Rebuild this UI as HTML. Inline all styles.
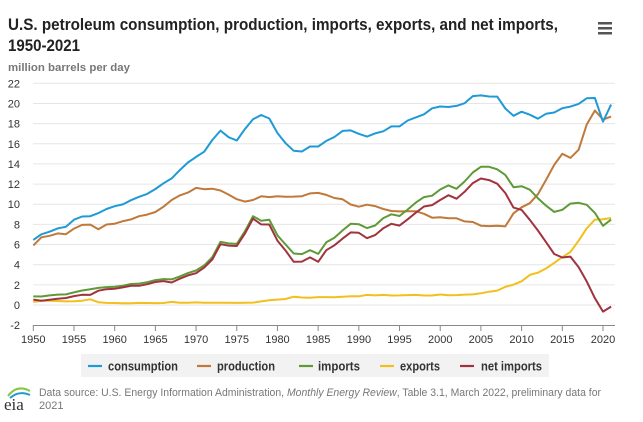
<!DOCTYPE html>
<html><head><meta charset="utf-8"><style>
body{margin:0;background:#fff;width:643px;height:422px;overflow:hidden}
svg{font-family:"Liberation Sans",Arial,sans-serif;display:block}
</style></head><body>
<svg id="s" width="643" height="422" viewBox="0 0 643 422">
<text x="8" y="30" font-size="16.5" font-weight="bold" fill="#222" textLength="550" lengthAdjust="spacingAndGlyphs">U.S. petroleum consumption, production, imports, exports, and net imports,</text>
<text x="8" y="51" font-size="16.5" font-weight="bold" fill="#222" textLength="72" lengthAdjust="spacingAndGlyphs">1950-2021</text>
<text x="8" y="71" font-size="11" font-weight="bold" fill="#777" textLength="122" lengthAdjust="spacingAndGlyphs">million barrels per day</text>
<g fill="#555"><rect x="598" y="22" width="14" height="2.5"/><rect x="598" y="27" width="14" height="2.5"/><rect x="598" y="32" width="14" height="2.5"/></g>
<g id="grid"></g>
<g id="lines" fill="none" stroke-width="2" stroke-linejoin="round"></g>
<rect x="81" y="354" width="468" height="23" fill="#f2f2f2"/>
<g font-size="12.5" font-weight="bold" fill="#333" stroke-width="2.2">
<line x1="88" y1="366" x2="102" y2="366" stroke="#1f9ad6"/><text x="108" y="370.5" textLength="70" lengthAdjust="spacingAndGlyphs">consumption</text>
<line x1="197" y1="366" x2="211" y2="366" stroke="#c0793a"/><text x="217" y="370.5" textLength="58" lengthAdjust="spacingAndGlyphs">production</text>
<line x1="299" y1="366" x2="313" y2="366" stroke="#5f9a37"/><text x="318" y="370.5" textLength="42" lengthAdjust="spacingAndGlyphs">imports</text>
<line x1="380" y1="366" x2="394" y2="366" stroke="#f2c01e"/><text x="400" y="370.5" textLength="40" lengthAdjust="spacingAndGlyphs">exports</text>
<line x1="460" y1="366" x2="474" y2="366" stroke="#a1333f"/><text x="481" y="370.5" textLength="61" lengthAdjust="spacingAndGlyphs">net imports</text>
</g>
<path d="M8 396 Q17 384 30 391" stroke="#8bc53f" stroke-width="2" fill="none"/>
<path d="M10 398 Q19 390 30 395" stroke="#1f9ad6" stroke-width="2" fill="none"/>
<text x="4" y="410" font-family="Liberation Serif,serif" font-size="17" fill="#333">eia</text>
<g font-size="11" fill="#777">
<text x="39" y="396" textLength="562" lengthAdjust="spacingAndGlyphs">Data source: U.S. Energy Information Administration, <tspan font-style="italic">Monthly Energy Review</tspan>, Table 3.1, March 2022, preliminary data for</text>
<text x="39" y="409">2021</text></g>
</svg>
<script>
var C=[6.46,7.02,7.27,7.6,7.76,8.46,8.78,8.81,9.12,9.53,9.8,9.98,10.4,10.74,11.02,11.51,12.08,12.56,13.39,14.14,14.7,15.21,16.37,17.31,16.65,16.32,17.46,18.43,18.85,18.51,17.06,16.06,15.3,15.23,15.73,15.73,16.28,16.67,17.28,17.33,16.99,16.71,17.03,17.24,17.72,17.72,18.31,18.62,18.92,19.52,19.7,19.65,19.76,20.03,20.73,20.8,20.69,20.68,19.5,18.77,19.18,18.88,18.49,18.97,19.1,19.53,19.69,19.96,20.51,20.54,18.19,19.89];
var P=[5.91,6.72,6.87,7.11,7.03,7.58,7.95,7.98,7.52,7.99,8.07,8.32,8.49,8.81,8.97,9.23,9.75,10.42,10.88,11.15,11.62,11.49,11.54,11.36,10.96,10.5,10.26,10.42,10.79,10.71,10.8,10.74,10.76,10.8,11.07,11.12,10.93,10.62,10.49,9.97,9.75,9.95,9.81,9.53,9.33,9.29,9.3,9.31,9.05,8.66,8.7,8.6,8.6,8.3,8.24,7.87,7.83,7.87,7.8,9.1,9.7,10.1,11.0,12.4,13.9,15.0,14.6,15.4,17.9,19.3,18.4,18.7];
var I=[0.85,0.84,0.95,1.03,1.05,1.25,1.44,1.57,1.7,1.78,1.81,1.92,2.08,2.12,2.26,2.47,2.57,2.54,2.84,3.17,3.42,3.93,4.74,6.26,6.11,6.06,7.31,8.81,8.36,8.46,6.91,6.0,5.11,5.05,5.44,5.07,6.22,6.68,7.4,8.06,8.02,7.63,7.89,8.62,9.0,8.83,9.48,10.16,10.71,10.85,11.46,11.87,11.53,12.26,13.15,13.71,13.71,13.47,12.91,11.69,11.79,11.44,10.6,9.86,9.24,9.45,10.06,10.14,9.94,9.14,7.86,8.47];
var E=[0.31,0.42,0.43,0.4,0.36,0.37,0.43,0.57,0.28,0.21,0.2,0.17,0.17,0.21,0.2,0.19,0.2,0.31,0.23,0.23,0.26,0.22,0.22,0.23,0.22,0.21,0.22,0.24,0.36,0.47,0.54,0.6,0.82,0.74,0.72,0.78,0.78,0.76,0.81,0.86,0.86,1.0,0.95,1.0,0.94,0.95,0.98,1.0,0.94,0.94,1.04,0.97,0.98,1.03,1.05,1.16,1.32,1.43,1.8,2.02,2.35,2.99,3.21,3.62,4.18,4.74,5.26,6.38,7.6,8.47,8.51,8.63];
var N=I.map(function(v,i){return v-E[i]});
var X0=33.3,DX=(603-33.3)/70,Y0=305,DY=(305-83.3)/22;
function X(i){return X0+i*DX}function Y(v){return Y0-v*DY}
var ns="http://www.w3.org/2000/svg",g=document.getElementById("grid"),l=document.getElementById("lines");
function el(p,t,a,txt){var e=document.createElementNS(ns,t);for(var k in a)e.setAttribute(k,a[k]);if(txt!=null)e.textContent=txt;p.appendChild(e);return e}
for(var v=-2;v<=22;v+=2){var y=Y(v);if(v>-2)el(g,"line",{x1:33,x2:615,y1:y,y2:y,stroke:"#e6e6e6","stroke-width":1});el(g,"text",{x:20,y:y+4,"text-anchor":"end","font-size":11,fill:"#333"},v)}
el(g,"line",{x1:33,x2:615,y1:325.5,y2:325.5,stroke:"#888","stroke-width":1});
for(var yr=1950;yr<=2020;yr+=5){var x=X(yr-1950);el(g,"line",{x1:x,x2:x,y1:325,y2:331,stroke:"#888","stroke-width":1});el(g,"text",{x:x,y:343,"text-anchor":"middle","font-size":11,fill:"#333"},yr)}
[[E,"#f2c01e"],[P,"#c0793a"],[I,"#5f9a37"],[N,"#a1333f"],[C,"#1f9ad6"]].forEach(function(s){el(l,"path",{d:s[0].map(function(v,i){return(i?"L":"M")+X(i).toFixed(1)+" "+Y(v).toFixed(1)}).join(""),stroke:s[1]})});
</script>
</body></html>
